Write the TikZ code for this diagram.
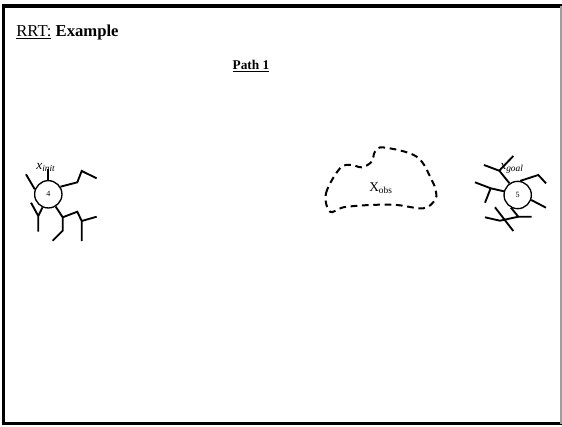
\documentclass[tikz,border=0pt]{standalone}
\usepackage{fontspec}
\setmainfont{Liberation Serif}
\usepackage{tikz}
\usetikzlibrary{positioning, calc}
\definecolor{rrtgray}{HTML}{9E9E9E}

\begin{document}
\begin{tikzpicture}[
  x=0.75pt, y=-0.75pt,
  vertex/.style={circle, draw, line width=1pt, minimum size=20.5pt, inner sep=0pt, font=\fontsize{6}{7}\selectfont},
  branch/.style={line width=1.4pt},
  obstacle/.style={line width=1.5pt, dash pattern=on 5pt off 3.5pt},
  lbl/.style={font=\fontsize{10}{12}\selectfont, inner sep=0pt},
]
\useasboundingbox (0,0) rectangle (562,426);

% Cadre
\draw[line width=2.4pt] (563,6) -- (3.5,6) -- (3.5,423.5) -- (563,423.5);
\draw[rrtgray, line width=0.8pt] (561,6) -- (561,423.5);

% Titres
\node[anchor=base west, inner sep=0pt, font=\fontsize{12.5}{15}\selectfont] (title) at (16,36)
  {\underline{RRT:} \textbf{Example}};
\node[anchor=base, inner sep=0pt, font=\fontsize{10}{12}\selectfont\bfseries] (path) at (251,69)
  {\underline{Path 1}};

% Arbre de depart
\node[vertex] (init) at (48.3,194.3) {4};
\node[lbl] (xinit) at (46,167) {\textit{x}\textsubscript{\textit{init}}};
\coordinate (i1) at (48.3,169);
\coordinate (i2) at (26,174.3);
\coordinate (i3) at (77.3,182.3);
\coordinate (i4) at (81.7,171);
\coordinate (i5) at (96.7,178.3);
\coordinate (i6) at (38.3,216);
\coordinate (i7) at (38.3,231.7);
\coordinate (i8) at (31,202.7);
\coordinate (i9) at (62.7,217.3);
\coordinate (i10) at (62.7,230.7);
\coordinate (i11) at (52.7,240.7);
\coordinate (i12) at (77.3,211.7);
\coordinate (i13) at (81.7,221);
\coordinate (i14) at (81.7,241);
\coordinate (i15) at (96.7,216.7);
\draw[branch] (init.90) -- (i1);
\draw[branch] (init.160) -- (i2);
\draw[branch] (init.32) -- (i3) -- (i4) -- (i5);
\draw[branch] (init.-114) -- (i6) -- (i7);
\draw[branch] (i8) -- (i6);
\draw[branch] (init.-59) -- (i9) -- (i10) -- (i11);
\draw[branch] (i9) -- (i12) -- (i13) -- (i14);
\draw[branch] (i13) -- (i15);

% Obstacle
\draw[obstacle] plot[smooth cycle, tension=0.6] coordinates {
  (330,211.7) (326,193.3) (340,168.3) (351.7,165) (361.7,167.3) (371.7,161.7)
  (375,151.7) (384,147.5) (416.7,156.7) (431.7,180) (436,191.7) (435,200)
  (423.3,208.3) (396.7,205) (370,205) (343.3,207.3)};
\node[lbl] (xobs) at (381,188) {X\textsubscript{obs}};

% Arbre d'arrivee
\node[vertex] (goal) at (517.7,195) {5};
\node[lbl] (xgoal) at (512,168) {\textit{x}\textsubscript{\textit{goal}}};
\coordinate (g1) at (499.3,170.7);
\coordinate (g2) at (484,165);
\coordinate (g3) at (513.3,156);
\coordinate (g4) at (538.3,175);
\coordinate (g5) at (546,183.3);
\coordinate (g6) at (490.7,188.3);
\coordinate (g7) at (475,182.3);
\coordinate (g8) at (485,202.7);
\coordinate (g9) at (546,207.7);
\coordinate (g10) at (518.3,216.7);
\coordinate (g11) at (531.7,216.7);
\coordinate (g12) at (500,220.7);
\coordinate (g13) at (485,217.3);
\coordinate (g14) at (495,207.3);
\coordinate (g15) at (513.3,231);
\draw[branch] (goal.125) -- (g1) -- (g2);
\draw[branch] (g1) -- (g3);
\draw[branch] (goal.80) -- (g4) -- (g5);
\draw[branch] (goal.165) -- (g6) -- (g7);
\draw[branch] (g6) -- (g8);
\draw[branch] (goal.-20) -- (g9);
\draw[branch] (goal.-118) -- (g10) -- (g11);
\draw[branch] (g10) -- (g12) -- (g13);
\draw[branch] (g14) -- (g15);

\end{tikzpicture}
\end{document}
